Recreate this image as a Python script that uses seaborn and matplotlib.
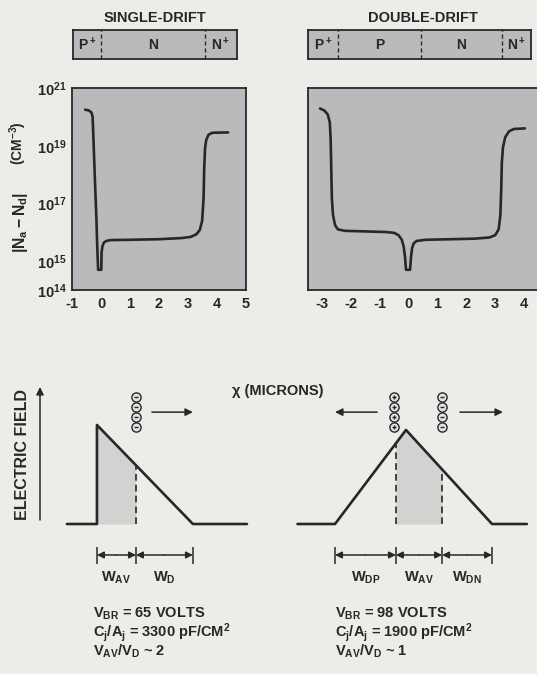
import numpy as np
import pandas as pd
import matplotlib
matplotlib.use("Agg")
import matplotlib.pyplot as plt
from matplotlib.ticker import NullLocator
import seaborn as sns

# ---------------------------------------------------------------- data ----
# Doping profiles |Na - Nd| : depth in microns, log10 of concentration (cm^-3)
single_x = [-0.55, -0.42, -0.33, -0.29, -0.26, -0.21, -0.16, -0.13, -0.10,
            0.01, 0.02, 0.05, 0.10, 0.18, 0.35, 1.0, 2.0, 2.8, 3.1, 3.3,
            3.42, 3.50, 3.55, 3.57, 3.60, 3.64, 3.72, 3.85, 4.40]
single_logN = [20.25, 20.22, 20.15, 20.0, 19.2, 17.8, 16.5, 15.5, 14.7,
               14.7, 15.3, 15.52, 15.64, 15.70, 15.73, 15.74, 15.76, 15.80,
               15.84, 15.93, 16.08, 16.4, 17.2, 18.2, 18.9, 19.2, 19.38,
               19.45, 19.46]

double_x = [-3.07, -2.92, -2.80, -2.73, -2.70, -2.68, -2.66, -2.62, -2.55,
            -2.45, -2.2, -1.5, -0.8, -0.5, -0.35, -0.24, -0.17, -0.12, -0.09,
            0.05, 0.08, 0.12, 0.18, 0.28, 0.6, 1.5, 2.3, 2.8, 3.0, 3.12, 3.18,
            3.21, 3.23, 3.27, 3.35, 3.48, 3.65, 4.03]
double_logN = [20.29, 20.22, 20.08, 19.8, 19.2, 18.2, 17.2, 16.6, 16.25,
               16.1, 16.05, 16.03, 16.01, 15.98, 15.9, 15.75, 15.5, 15.1, 14.7,
               14.7, 15.1, 15.45, 15.62, 15.7, 15.74, 15.76, 15.78, 15.82,
               15.9, 16.1, 16.6, 17.5, 18.4, 18.95, 19.3, 19.5, 19.58, 19.6]

# Layer structure of each diode (boundaries in microns)
single_layers = ["P$^+$", "N", "N$^+$"]
single_bounds = [-0.97, 0.0, 3.6, 4.7]
double_layers = ["P$^+$", "P", "N", "N$^+$"]
double_bounds = [-3.5, -2.45, 0.43, 3.24, 4.23]

# Axis ticks
decades = [14, 15, 16, 17, 18, 19, 20, 21]
labelled_decades = [14, 15, 17, 19, 21]
single_xticks = [-1, 0, 1, 2, 3, 4, 5]
double_xticks = [-3, -2, -1, 0, 1, 2, 3, 4]

# Electric-field profiles (field relative to the single-drift peak)
single_field_x = [-1.18, -0.14, -0.14, 3.18, 5.05]
single_field_E = [0.0, 0.0, 1.0, 0.0, 0.0]
single_avalanche = (-0.14, 1.21)
single_marks = [-0.14, 1.21, 3.18]
single_widths = ["W$_{AV}$", "W$_D$"]

double_field_x = [-3.85, -2.55, -0.09, 2.89, 4.10]
double_field_E = [0.0, 0.0, 0.95, 0.0, 0.0]
double_avalanche = (-0.44, 1.16)
double_marks = [-2.55, -0.44, 1.16, 2.89]
double_widths = ["W$_{DP}$", "W$_{AV}$", "W$_{DN}$"]

single_notes = ["V$_{BR}$ = 65 VOLTS",
                "C$_j$/A$_j$ = 3300 pF/CM$^2$",
                "V$_{AV}$/V$_D$ ~ 2"]
double_notes = ["V$_{BR}$ = 98 VOLTS",
                "C$_j$/A$_j$ = 1900 pF/CM$^2$",
                "V$_{AV}$/V$_D$ ~ 1"]

# -------------------------------------------------------------- styling ----
PAPER = "#ecece9"
PANEL = "#b9babb"
SHADE = "#d2d2d1"
INK = "#262828"

sns.set_style("white")
plt.rcParams.update({
    "font.family": ["Liberation Sans", "DejaVu Sans"],
    "font.weight": "bold",
    "mathtext.fontset": "custom",
    "mathtext.rm": "Liberation Sans:bold",
    "mathtext.it": "Liberation Sans:bold",
    "mathtext.bf": "Liberation Sans:bold",
    "mathtext.sf": "Liberation Sans:bold",
    "axes.unicode_minus": False,
    "text.color": INK,
    "axes.edgecolor": INK,
    "xtick.color": INK,
    "ytick.color": INK,
})

W, H = 537, 674
fig = plt.figure(figsize=(W / 100, H / 100), dpi=100, facecolor=PAPER)


def px_axes(x0, y0, x1, y1):
    return fig.add_axes([x0 / W, 1 - y1 / H, (x1 - x0) / W, (y1 - y0) / H])


# horizontal scale (pixel of x=0, pixels per micron) for each column
LEFT = dict(origin=101.0, scale=28.9)
RIGHT = dict(origin=408.6, scale=28.86)


def column_axes(col, xmin, xmax, y0, y1):
    ax = px_axes(col["origin"] + col["scale"] * xmin, y0,
                 col["origin"] + col["scale"] * xmax, y1)
    ax.set_xlim(xmin, xmax)
    return ax


# ------------------------------------------------------- doping profiles ----
def doping_panel(col, xlim, x, logN, xticks, label_y):
    ax = column_axes(col, xlim[0], xlim[1], 88, 290)
    ax.set_facecolor(PANEL)
    df = pd.DataFrame({"x": x, "N": 10.0 ** np.asarray(logN)})
    sns.lineplot(data=df, x="x", y="N", ax=ax, color=INK, lw=1.9,
                 sort=False, estimator=None)
    ax.set_yscale("log")
    ax.set_ylim(1e14, 1e21)
    ax.set_xlim(*xlim)
    ax.set_yticks([10.0 ** d for d in decades])
    if label_y:
        ax.set_yticklabels([f"10$^{{{d}}}$" if d in labelled_decades else ""
                            for d in decades])
    else:
        ax.set_yticklabels([])
    ax.yaxis.set_minor_locator(NullLocator())
    ax.set_xticks(xticks)
    ax.set_xticklabels([str(t) for t in xticks])
    ax.tick_params(axis="y", direction="in", length=10, width=1.2, pad=4,
                   labelsize=10.5)
    ax.tick_params(axis="x", direction="in", length=8, width=1.2, pad=5,
                   labelsize=10.5)
    ax.set_xlabel("")
    ax.set_ylabel("")
    for s in ax.spines.values():
        s.set_color(INK)
        s.set_linewidth(1.3)
    return ax


doping_panel(LEFT, (-1, 5), single_x, single_logN, single_xticks, True)
doping_panel(RIGHT, (-3.5, 4.6), double_x, double_logN, double_xticks, False)


# ------------------------------------------------------------ layer bars ----
def layer_bar(col, bounds, names):
    ax = column_axes(col, bounds[0], bounds[-1], 29.5, 59.3)
    ax.set_facecolor(PANEL)
    ax.set_ylim(0, 1)
    for b in bounds[1:-1]:
        ax.axvline(b, color=INK, lw=1.0, ls=(0, (3, 2)))
    for name, a, b in zip(names, bounds[:-1], bounds[1:]):
        ax.text((a + b) / 2, 0.48, name, ha="center", va="center",
                fontsize=10)
    ax.set_xticks([])
    ax.set_yticks([])
    for s in ax.spines.values():
        s.set_color(INK)
        s.set_linewidth(1.3)


layer_bar(LEFT, single_bounds, single_layers)
layer_bar(RIGHT, double_bounds, double_layers)


# --------------------------------------------------- electric field plots ----
E_BOTTOM = -(600 - 524) / 99
E_TOP = (524 - 370) / 99
CHARGE_E = 0.98 + 0.101 * np.arange(4)


def charge_stack(ax, x, sign):
    ax.scatter([x] * len(CHARGE_E), CHARGE_E, s=44, facecolors="#e4e4e2",
               edgecolors=INK, linewidths=1.0, zorder=4)
    ax.scatter([x] * len(CHARGE_E), CHARGE_E, s=12, marker=sign,
               color=INK, linewidths=1.0, zorder=5)


def arrow(ax, x0, x1, y, style="-|>", scale=9):
    ax.annotate("", xy=(x1, y), xytext=(x0, y),
                arrowprops=dict(arrowstyle=style, color=INK, lw=1.1,
                                mutation_scale=scale, shrinkA=0, shrinkB=0))


def field_panel(col, xlim, fx, fE, avalanche, marks, names):
    ax = column_axes(col, xlim[0], xlim[1], 370, 600)
    ax.set_ylim(E_BOTTOM, E_TOP)
    ax.axis("off")
    xs = np.linspace(avalanche[0] + 1e-6, avalanche[1], 80)
    ax.fill_between(xs, 0, np.interp(xs, fx, fE), color=SHADE, lw=0)
    for b in avalanche:
        ax.plot([b, b], [0, np.interp(b + 1e-6, fx, fE)], color=INK,
                lw=1.2, ls=(0, (4, 2.5)))
    df = pd.DataFrame({"x": fx, "E": fE})
    sns.lineplot(data=df, x="x", y="E", ax=ax, color=INK, lw=1.9,
                 sort=False, estimator=None)
    ax.set_xlim(*xlim)
    ax.set_ylim(E_BOTTOM, E_TOP)
    # width dimensions
    ax.vlines(marks, -0.23, -0.40, color=INK, lw=1.1)
    for a, b, name in zip(marks[:-1], marks[1:], names):
        arrow(ax, (a + b) / 2, a, -0.313, scale=10)
        arrow(ax, (a + b) / 2, b, -0.313, scale=10)
        ax.text((a + b) / 2, -0.545, name, ha="center", va="center",
                fontsize=10.5)
    return ax


axl = field_panel(LEFT, (-1.6, 5.5), single_field_x, single_field_E,
                  single_avalanche, single_marks, single_widths)
charge_stack(axl, single_avalanche[1], "_")
arrow(axl, 1.76, 3.18, 1.13, scale=11)

axr = field_panel(RIGHT, (-4.2, 4.5), double_field_x, double_field_E,
                  double_avalanche, double_marks, double_widths)
charge_stack(axr, double_avalanche[0] - 0.06, "+")
charge_stack(axr, double_avalanche[1], "_")
arrow(axr, -1.09, -2.55, 1.13, scale=11)
arrow(axr, 1.78, 3.27, 1.13, scale=11)

# ------------------------------------------------------------ annotations ----
ov = fig.add_axes([0, 0, 1, 1])
ov.set_xlim(0, W)
ov.set_ylim(H, 0)
ov.axis("off")
ov.patch.set_alpha(0)

ov.text(155, 18, "SINGLE-DRIFT", ha="center", va="center", fontsize=10.5)
ov.text(423, 18, "DOUBLE-DRIFT", ha="center", va="center", fontsize=10.5)
ov.text(20, 223, "$|N_a - N_d|$", ha="center", va="center", rotation=90,
        fontsize=11.3)
ov.text(18, 143, "(CM$^{-3}$)", ha="center", va="center", rotation=90,
        fontsize=10)
ov.text(23, 454, "ELECTRIC FIELD", ha="center", va="center", rotation=90,
        fontsize=11.5)
ov.annotate("", xy=(40, 387), xytext=(40, 520),
            arrowprops=dict(arrowstyle="-|>", color=INK, lw=1.1,
                            mutation_scale=11, shrinkA=0, shrinkB=0))
ov.text(278, 391, "\u03c7 (MICRONS)", ha="center", va="center", fontsize=10.5)

for i, (ln, rn) in enumerate(zip(single_notes, double_notes)):
    y = 614 + 18.5 * i
    ov.text(93, y, ln, ha="left", va="center", fontsize=10.5)
    ov.text(335, y, rn, ha="left", va="center", fontsize=10.5)

fig.savefig("out.png", dpi=100, facecolor=PAPER)
